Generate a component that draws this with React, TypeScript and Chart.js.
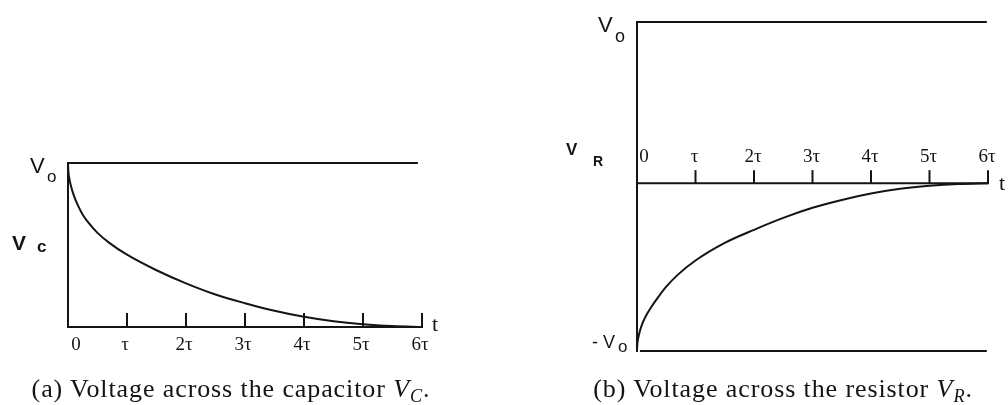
import React, { useEffect, useRef } from "react";
import { Chart, registerables } from "chart.js";

Chart.register(...registerables);

// ---- data (time in units of tau, voltage in units of V0) ----
const tauTicks = [1, 2, 3, 4, 5, 6];
const tickLabels = ["τ", "2τ", "3τ", "4τ", "5τ", "6τ"];
const zeroLabel = "0";

const vcTimes = [0, 0.005, 0.02, 0.05, 0.1, 0.17, 0.25, 0.35, 0.5, 0.7, 1, 1.5, 2, 2.5, 3, 3.5, 4, 4.5, 5, 5.5, 6];
const vcValues = [1, 0.955, 0.91, 0.86, 0.801, 0.74, 0.685, 0.635, 0.574, 0.513, 0.441, 0.346, 0.266, 0.198, 0.145, 0.099, 0.062, 0.035, 0.017, 0.006, 0];
const vcUpperLevel = 1;
const vcUpperEnd = 5.93;

const vrTimes = [0, 0.005, 0.02, 0.05, 0.1, 0.17, 0.25, 0.35, 0.5, 0.7, 1, 1.5, 2, 2.5, 3, 3.5, 4, 4.5, 5, 5.5, 6];
const vrValues = [-1, -0.962, -0.925, -0.88, -0.83, -0.78, -0.735, -0.685, -0.617, -0.545, -0.461, -0.356, -0.278, -0.207, -0.147, -0.1, -0.062, -0.034, -0.016, -0.005, 0];
const vrUpperLevel = 0.96;
const vrUpperEnd = 5.98;
const vrLowerLevel = -1;
const vrLowerStart = 0.05;
const vrLowerEnd = 5.98;

const INK = "#141414";
const SANS = "'Liberation Sans', Arial, sans-serif";
const SERIF = "'Liberation Serif', 'Times New Roman', serif";

function pts(xs: number[], ys: number[]) {
  return xs.map((x, i) => ({ x, y: ys[i] }));
}

function lineDs(data: { x: number; y: number }[], width = 2) {
  return {
    data,
    borderColor: INK,
    borderWidth: width,
    pointRadius: 0,
    fill: false,
    clip: false as any,
    cubicInterpolationMode: "monotone" as const,
  };
}

function txt(ctx: CanvasRenderingContext2D, s: string, x: number, y: number, font: string, align: CanvasTextAlign = "left") {
  ctx.font = font;
  ctx.textAlign = align;
  ctx.textBaseline = "alphabetic";
  ctx.fillStyle = INK;
  ctx.fillText(s, x, y);
}

function seg(ctx: CanvasRenderingContext2D, x1: number, y1: number, x2: number, y2: number) {
  ctx.beginPath();
  ctx.moveTo(x1, y1);
  ctx.lineTo(x2, y2);
  ctx.stroke();
}

const capacitorPlugin = {
  id: "capAxes",
  beforeDatasetsDraw(chart: any) {
    const { ctx, scales } = chart;
    const x = scales.x, y = scales.y;
    const ax = x.getPixelForValue(0);
    const ay = y.getPixelForValue(0);
    ctx.save();
    ctx.strokeStyle = INK;
    ctx.lineWidth = 2;
    seg(ctx, ax, y.getPixelForValue(vcUpperLevel) - 1, ax, ay + 1);
    seg(ctx, ax - 1, ay, x.getPixelForValue(6) + 1, ay);
    tauTicks.forEach((t) => {
      const px = x.getPixelForValue(t);
      seg(ctx, px, ay, px, ay - 14);
    });
    ctx.restore();
  },
  afterDraw(chart: any) {
    const { ctx, scales } = chart;
    const x = scales.x, y = scales.y;
    const ax = x.getPixelForValue(0);
    const ay = y.getPixelForValue(0);
    const top = y.getPixelForValue(vcUpperLevel);
    ctx.save();
    txt(ctx, zeroLabel, ax + 8, ay + 23, `19px ${SERIF}`, "center");
    tauTicks.forEach((t, i) => {
      txt(ctx, tickLabels[i], x.getPixelForValue(t) - 2, ay + 23, `19px ${SERIF}`, "center");
    });
    txt(ctx, "t", x.getPixelForValue(6) + 10, ay + 4, `22px ${SERIF}`);
    txt(ctx, "V", ax - 38, top + 10, `22px ${SANS}`);
    txt(ctx, "o", ax - 21, top + 19, `17px ${SANS}`);
    const mid = y.getPixelForValue(0.47);
    txt(ctx, "V", ax - 56, mid, `bold 21px ${SANS}`);
    txt(ctx, "c", ax - 31, mid + 2, `bold 17px ${SANS}`);
    ctx.restore();
  },
};

const resistorPlugin = {
  id: "resAxes",
  beforeDatasetsDraw(chart: any) {
    const { ctx, scales } = chart;
    const x = scales.x, y = scales.y;
    const ax = x.getPixelForValue(0);
    const ay = y.getPixelForValue(0);
    ctx.save();
    ctx.strokeStyle = INK;
    ctx.lineWidth = 2;
    seg(ctx, ax, y.getPixelForValue(vrUpperLevel) - 1, ax, y.getPixelForValue(vrLowerLevel) + 1);
    seg(ctx, ax - 1, ay, x.getPixelForValue(6) + 1, ay);
    tauTicks.forEach((t) => {
      const px = x.getPixelForValue(t);
      seg(ctx, px, ay, px, ay - 13);
    });
    ctx.restore();
  },
  afterDraw(chart: any) {
    const { ctx, scales } = chart;
    const x = scales.x, y = scales.y;
    const ax = x.getPixelForValue(0);
    const ay = y.getPixelForValue(0);
    const top = y.getPixelForValue(vrUpperLevel);
    const bot = y.getPixelForValue(vrLowerLevel);
    ctx.save();
    txt(ctx, zeroLabel, ax + 7, ay - 21, `19px ${SERIF}`, "center");
    tauTicks.forEach((t, i) => {
      txt(ctx, tickLabels[i], x.getPixelForValue(t) - 1, ay - 21, `19px ${SERIF}`, "center");
    });
    txt(ctx, "t", x.getPixelForValue(6) + 11, ay + 7, `22px ${SERIF}`);
    txt(ctx, "V", ax - 39, top + 10, `22px ${SANS}`);
    txt(ctx, "o", ax - 22, top + 20, `18px ${SANS}`);
    txt(ctx, "V", ax - 71, ay - 28, `bold 17px ${SANS}`);
    txt(ctx, "R", ax - 44, ay - 17, `bold 14px ${SANS}`);
    txt(ctx, "-", ax - 45, bot - 3, `18px ${SANS}`);
    txt(ctx, "V", ax - 34, bot - 3, `18px ${SANS}`);
    txt(ctx, "o", ax - 19, bot + 1, `17px ${SANS}`);
    ctx.restore();
  },
};

function baseOptions(padding: any, ymin: number, ymax: number) {
  return {
    responsive: false,
    animation: false as const,
    events: [] as any[],
    layout: { padding },
    scales: {
      x: { type: "linear" as const, min: 0, max: 6, display: false },
      y: { type: "linear" as const, min: ymin, max: ymax, display: false },
    },
    plugins: { legend: { display: false }, tooltip: { enabled: false }, title: { display: false } },
  };
}

function CapacitorChart() {
  const ref = useRef<HTMLCanvasElement>(null);
  useEffect(() => {
    const chart = new Chart(ref.current as HTMLCanvasElement, {
      type: "line",
      data: {
        datasets: [
          lineDs(pts(vcTimes, vcValues)) as any,
          lineDs(pts([0, vcUpperEnd], [vcUpperLevel, vcUpperLevel])) as any,
        ],
      },
      options: baseOptions({ left: 68, right: 82, top: 163, bottom: 78 }, 0, 1) as any,
      plugins: [capacitorPlugin],
    });
    return () => chart.destroy();
  }, []);
  return <canvas ref={ref} width={504} height={405} style={{ position: "absolute", left: 0, top: 0, width: 504, height: 405 }} />;
}

function ResistorChart() {
  const ref = useRef<HTMLCanvasElement>(null);
  useEffect(() => {
    const chart = new Chart(ref.current as HTMLCanvasElement, {
      type: "line",
      data: {
        datasets: [
          lineDs(pts(vrTimes, vrValues)) as any,
          lineDs(pts([0, vrUpperEnd], [vrUpperLevel, vrUpperLevel])) as any,
          lineDs(pts([vrLowerStart, vrLowerEnd], [vrLowerLevel, vrLowerLevel])) as any,
        ],
      },
      options: baseOptions({ left: 133, right: 20, top: 22, bottom: 54 }, -1, 0.96) as any,
      plugins: [resistorPlugin],
    });
    return () => chart.destroy();
  }, []);
  return <canvas ref={ref} width={504} height={405} style={{ position: "absolute", left: 504, top: 0, width: 504, height: 405 }} />;
}

const captionStyle: React.CSSProperties = {
  position: "absolute",
  top: 376,
  transform: "translateX(-50%)",
  whiteSpace: "nowrap",
  fontFamily: SERIF,
  fontSize: 26,
  lineHeight: "26px",
  letterSpacing: "0.9px",
  color: INK,
};

const subStyle: React.CSSProperties = {
  fontSize: "0.7em",
  position: "relative",
  top: "0.25em",
  fontStyle: "italic",
};

export default function App() {
  return (
    <div style={{ position: "absolute", left: 0, top: 0, width: 1008, height: 405, background: "#fff", overflow: "hidden" }}>
      <CapacitorChart />
      <ResistorChart />
      <div style={{ ...captionStyle, left: 231 }}>
        (a) Voltage across the capacitor <i>V</i>
        <span style={subStyle}>C</span>.
      </div>
      <div style={{ ...captionStyle, left: 783 }}>
        (b) Voltage across the resistor <i>V</i>
        <span style={subStyle}>R</span>.
      </div>
    </div>
  );
}
